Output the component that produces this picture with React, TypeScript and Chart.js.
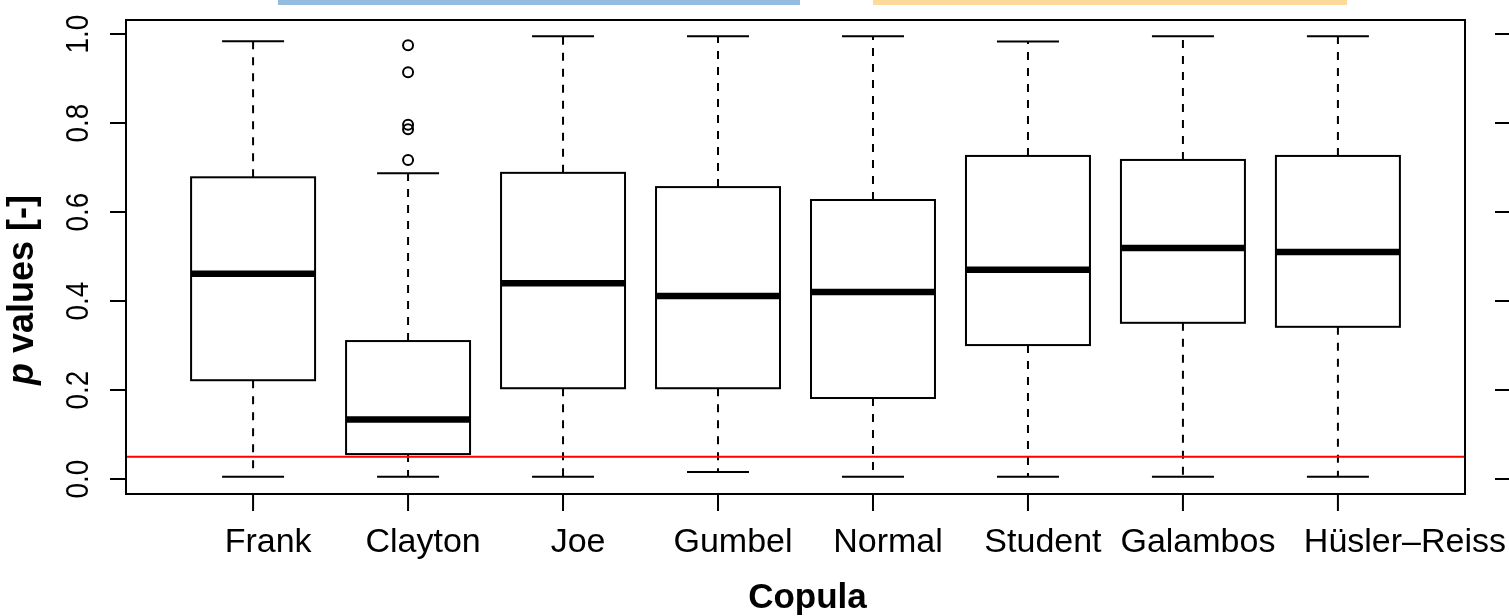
import React, { useEffect, useRef } from "react";
import { Chart, registerables } from "chart.js";
Chart.register(...registerables);

// ---- data ----
const categories = ["Frank", "Clayton", "Joe", "Gumbel", "Normal", "Student", "Galambos", "Hüsler–Reiss"];
const whiskerLow = [0.005, 0.005, 0.005, 0.016, 0.005, 0.005, 0.005, 0.005];
const q1 = [0.222, 0.056, 0.204, 0.204, 0.182, 0.301, 0.351, 0.342];
const median = [0.461, 0.134, 0.44, 0.411, 0.42, 0.47, 0.519, 0.51];
const q3 = [0.678, 0.31, 0.688, 0.656, 0.627, 0.726, 0.717, 0.726];
const whiskerHigh = [0.984, 0.687, 0.995, 0.995, 0.995, 0.983, 0.995, 0.995];
const claytonOutliers = [0.975, 0.914, 0.796, 0.786, 0.717];
const yTicks = [0, 0.2, 0.4, 0.6, 0.8, 1.0];
const yTickLabels = ["0.0", "0.2", "0.4", "0.6", "0.8", "1.0"];
const threshold = 0.05;
const xTitle = "Copula";
const yTitleItalic = "p";
const yTitleRest = " values [-]";

const FONT = "'Liberation Sans', Arial, Helvetica, sans-serif";

const boxPlugin = {
  id: "rbox",
  beforeDatasetsDraw(chart: any) {
    const { ctx } = chart;
    const xs = chart.scales.x;
    const ys = chart.scales.y;
    ctx.save();
    const boxW = 0.8;
    const capW = 0.4;
    for (let i = 0; i < categories.length; i++) {
      const c = i + 1;
      const xl = xs.getPixelForValue(c - boxW / 2);
      const xr = xs.getPixelForValue(c + boxW / 2);
      const xc = xs.getPixelForValue(c);
      const cl = xs.getPixelForValue(c - capW / 2);
      const cr = xs.getPixelForValue(c + capW / 2);
      const yq1 = ys.getPixelForValue(q1[i]);
      const yq3 = ys.getPixelForValue(q3[i]);
      const ymed = ys.getPixelForValue(median[i]);
      const ylo = ys.getPixelForValue(whiskerLow[i]);
      const yhi = ys.getPixelForValue(whiskerHigh[i]);
      ctx.strokeStyle = "#000";
      ctx.lineWidth = 2;
      ctx.setLineDash([8, 8]);
      ctx.beginPath();
      ctx.moveTo(xc, yq3);
      ctx.lineTo(xc, yhi);
      ctx.moveTo(xc, yq1);
      ctx.lineTo(xc, ylo);
      ctx.stroke();
      ctx.setLineDash([]);
      ctx.beginPath();
      ctx.moveTo(cl, yhi);
      ctx.lineTo(cr, yhi);
      ctx.moveTo(cl, ylo);
      ctx.lineTo(cr, ylo);
      ctx.stroke();
      ctx.fillStyle = "#fff";
      ctx.fillRect(xl, yq3, xr - xl, yq1 - yq3);
      ctx.strokeRect(xl, yq3, xr - xl, yq1 - yq3);
      ctx.lineWidth = 6.5;
      ctx.beginPath();
      ctx.moveTo(xl, ymed);
      ctx.lineTo(xr, ymed);
      ctx.stroke();
    }
    ctx.restore();
  },
  afterDraw(chart: any) {
    const { ctx, chartArea } = chart;
    const xs = chart.scales.x;
    const ys = chart.scales.y;
    const { left, right, top, bottom } = chartArea;
    ctx.save();
    ctx.strokeStyle = "#000";
    ctx.lineWidth = 2;
    ctx.setLineDash([]);
    ctx.strokeRect(left, top, right - left, bottom - top);
    ctx.beginPath();
    for (const t of yTicks) {
      const y = ys.getPixelForValue(t);
      ctx.moveTo(left - 16, y);
      ctx.lineTo(left, y);
    }
    // tick marks of the neighbouring (cut-off) panel on the right
    for (const t of yTicks) {
      const y = ys.getPixelForValue(t);
      ctx.moveTo(right + 30, y);
      ctx.lineTo(chart.width, y);
    }
    for (let i = 0; i < categories.length; i++) {
      const x = xs.getPixelForValue(i + 1);
      ctx.moveTo(x, bottom);
      ctx.lineTo(x, bottom + 17);
    }
    ctx.stroke();

    ctx.fillStyle = "#000";
    ctx.font = `31px ${FONT}`;
    ctx.textAlign = "center";
    ctx.textBaseline = "alphabetic";
    yTicks.forEach((t, i) => {
      const y = ys.getPixelForValue(t);
      ctx.save();
      ctx.translate(left - 38, y);
      ctx.rotate(-Math.PI / 2);
      ctx.scale(0.9, 1);
      ctx.fillText(yTickLabels[i], 0, 0);
      ctx.restore();
    });

    // x tick labels
    ctx.font = `34px ${FONT}`;
    categories.forEach((c, i) => {
      const x = xs.getPixelForValue(i + 1) + 15;
      if (i === categories.length - 1) {
        ctx.textAlign = "right";
        ctx.fillText(c, chart.width - 3, bottom + 58);
        ctx.textAlign = "center";
      } else {
        ctx.fillText(c, x, bottom + 58);
      }
    });

    ctx.font = `bold 35px ${FONT}`;
    ctx.fillText(xTitle, (left + right) / 2 + 12, bottom + 114);

    ctx.save();
    ctx.translate(left - 93, (top + bottom) / 2 + 33);
    ctx.rotate(-Math.PI / 2);
    ctx.textAlign = "left";
    ctx.font = `italic bold 36px ${FONT}`;
    const w1 = ctx.measureText(yTitleItalic).width;
    ctx.font = `bold 36px ${FONT}`;
    const w2 = ctx.measureText(yTitleRest).width;
    const start = -(w1 + w2) / 2;
    ctx.font = `italic bold 36px ${FONT}`;
    ctx.fillText(yTitleItalic, start, 0);
    ctx.font = `bold 36px ${FONT}`;
    ctx.fillText(yTitleRest, start + w1, 0);
    ctx.restore();
    ctx.restore();
  },
};

export default function App() {
  const ref = useRef<HTMLCanvasElement | null>(null);
  useEffect(() => {
    if (!ref.current) return;
    const chart = new Chart(ref.current, {
      type: "scatter",
      data: {
        datasets: [
          {
            label: "threshold",
            type: "line",
            data: [
              { x: 0.18, y: threshold },
              { x: 8.82, y: threshold },
            ],
            borderColor: "#ff0000",
            borderWidth: 2,
            pointRadius: 0,
            fill: false,
          } as any,
          {
            label: "outliers",
            data: claytonOutliers.map((v) => ({ x: 2, y: v })),
            pointStyle: "circle",
            pointRadius: 5,
            borderColor: "#000",
            borderWidth: 2,
            backgroundColor: "rgba(0,0,0,0)",
          },
        ],
      },
      options: {
        animation: false,
        responsive: true,
        maintainAspectRatio: false,
        events: [],
        layout: { padding: { left: 126, top: 20, right: 44, bottom: 122 } },
        plugins: { legend: { display: false }, tooltip: { enabled: false } },
        scales: {
          x: { type: "linear", min: 0.18, max: 8.82, display: false },
          y: { type: "linear", min: -0.0337, max: 1.0315, display: false },
        },
      },
      plugins: [boxPlugin],
    });
    return () => chart.destroy();
  }, []);
  return (
    <div style={{ position: "fixed", left: 0, top: 0, width: 1509, height: 616, background: "#fff" }}>
      <canvas ref={ref} />
      <div style={{ position: "absolute", left: 278, top: 0, width: 522, height: 5, background: "#92bde0" }} />
      <div style={{ position: "absolute", left: 873, top: 0, width: 474, height: 5, background: "#fdd99a" }} />
    </div>
  );
}
